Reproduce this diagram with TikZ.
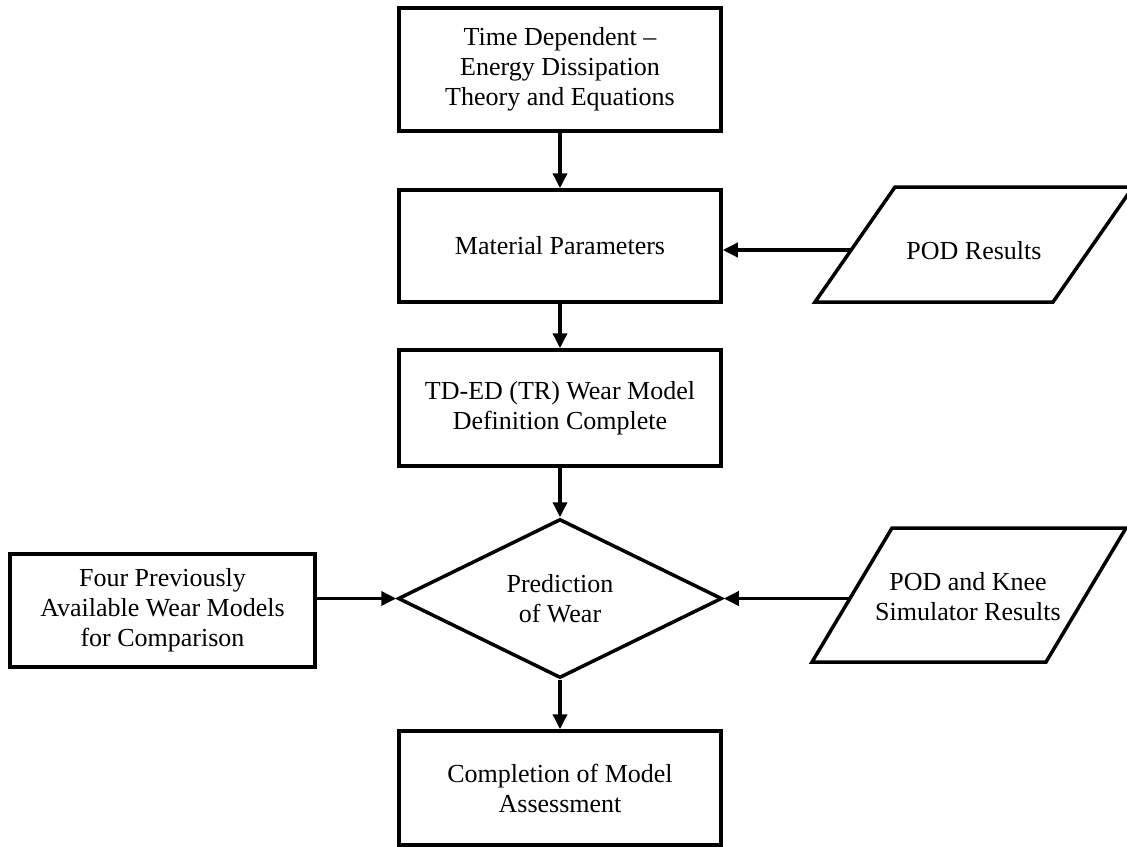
\documentclass[tikz,border=0pt]{standalone}
\usepackage{fontspec}
\setmainfont{Liberation Serif}
\usetikzlibrary{arrows.meta,shapes.geometric}
\tikzset{
  every node/.style={font=\fontsize{26}{30}\selectfont, align=center},
  outline/.style={draw, line width=3.5pt},
  procbox/.style={outline, rectangle, inner sep=0pt, minimum width=322pt},
  decision/.style={outline, diamond, inner sep=0pt, minimum width=324pt, minimum height=159pt},
  datashape/.style={line width=3.5pt, line join=miter},
  flow/.style={line width=3.5pt, -{Triangle[length=15pt,width=14pt]}}
}
\begin{document}
\begin{tikzpicture}[x=1pt,y=-1pt]
\useasboundingbox (0,0) rectangle (1127,846);

% main chain
\node[procbox, minimum height=123pt] (theory) at (560,69.5)
  {Time Dependent –\\Energy Dissipation\\Theory and Equations};
\node[procbox, minimum height=112pt] (params) at (560,246) {Material Parameters};
\node[procbox, minimum height=116pt] (model) at (560,408)
  {TD-ED (TR) Wear Model\\Definition Complete};
\node[decision] (predict) at (560,598.5) {Prediction\\of Wear};
\node[procbox, minimum height=114pt] (assess) at (560,788)
  {Completion of Model\\Assessment};

% side inputs
\node[procbox, minimum width=305pt, minimum height=113pt] (prior) at (162.5,610.5)
  {Four Previously\\Available Wear Models\\for Comparison};

\draw[datashape] (815,302) -- (1053,302) -- (1133,187) -- (895,187) -- cycle;
\node (pod) at (974,251) {POD Results};
\coordinate (podin) at (851,250);

\draw[datashape] (812,662) -- (1046,662) -- (1126,528) -- (892,528) -- cycle;
\node (knee) at (968,597) {POD and Knee\\Simulator Results};
\coordinate (kneein) at (850,598.5);

% connectors
\draw[flow] (theory) -- (params);
\draw[flow] (params) -- (model);
\draw[flow] (model) -- (predict);
\draw[flow] (predict) -- (assess);
\draw[flow] (podin) -- (podin -| params.east);
\draw[flow] (predict.west -| prior.east) -- (predict.west);
\draw[flow] (kneein) -- (predict.east);
\end{tikzpicture}
\end{document}
